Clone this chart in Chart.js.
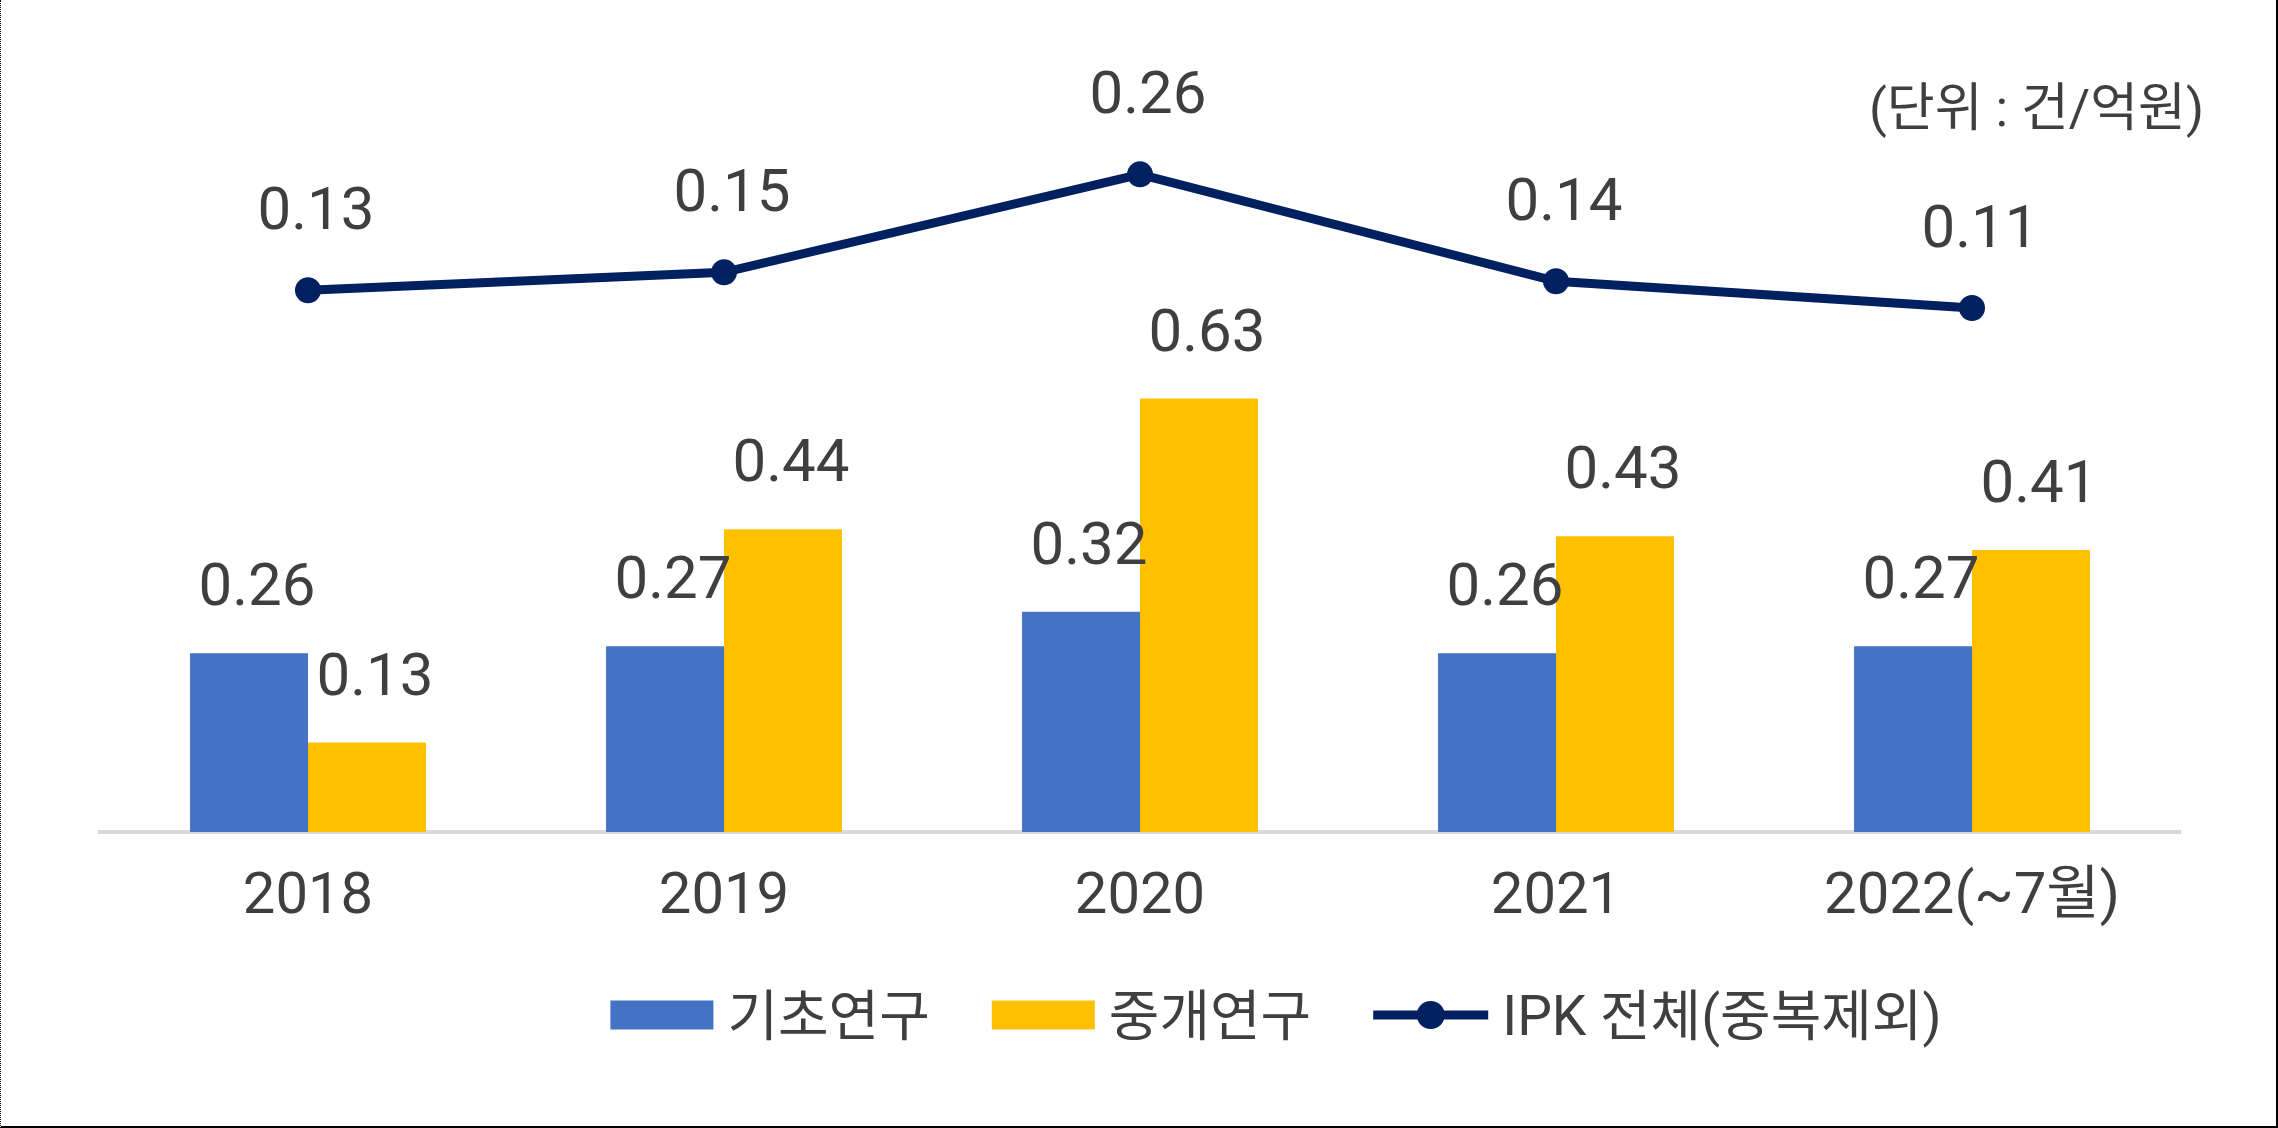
<!DOCTYPE html>
<html>
<head>
<meta charset="utf-8">
<script src="https://cdn.jsdelivr.net/npm/chart.js@4.4.1/dist/chart.umd.min.js"></script>
<style>
html,body{margin:0;padding:0;background:#fff;}
#wrap{position:relative;width:2278px;height:1128px;overflow:hidden;background:#fff;}
#c{display:block;}
#frame{position:absolute;left:0;top:0;width:2278px;height:1128px;box-sizing:border-box;border-left:1px dotted #000;border-right:2px solid #000;border-bottom:2px solid #000;pointer-events:none;}
</style>
</head>
<body>
<div id="wrap"><canvas id="c" width="2278" height="1128"></canvas><div id="frame"></div></div>
<script>
// ---- data ----
const categories = ['2018', '2019', '2020', '2021', '2022(~7월)'];
const basicResearch = [0.26, 0.27, 0.32, 0.26, 0.27];
const translationalResearch = [0.13, 0.44, 0.63, 0.43, 0.41];
const ipkTotal = [0.13, 0.15, 0.26, 0.14, 0.11];
const seriesNames = ['기초연구', '중개연구', 'IPK 전체(중복제외)'];
const unitLabel = '(단위 : 건/억원)';

// ---- styles ----
const BLUE = '#4472C4';
const GOLD = '#FFC000';
const NAVY = '#002060';
const TEXT = '#3F3F3F';
const FAMILY = "Roboto, 'Noto Sans CJK KR', sans-serif";

const dataLabelPlugin = {
  id: 'dataLabels',
  afterDatasetsDraw(chart) {
    const ctx = chart.ctx;
    ctx.save();
    ctx.font = '60px ' + FAMILY;
    ctx.fillStyle = TEXT;
    ctx.textAlign = 'center';
    ctx.textBaseline = 'alphabetic';
    chart.data.datasets.forEach((ds, i) => {
      const meta = chart.getDatasetMeta(i);
      meta.data.forEach((el, j) => {
        const v = ds.data[j];
        const txt = v.toFixed(2);
        const dy = ds.type === 'line' ? 61 : 48;
        ctx.fillText(txt, el.x + 8, el.y - dy);
      });
    });
    ctx.restore();
  }
};

const extrasPlugin = {
  id: 'extras',
  afterDraw(chart) {
    const ctx = chart.ctx;
    ctx.save();
    // unit label
    ctx.font = '52px ' + FAMILY;
    ctx.fillStyle = TEXT;
    ctx.textAlign = 'right';
    ctx.textBaseline = 'alphabetic';
    ctx.fillText(unitLabel, 2204, 126);

    // legend
    ctx.font = '55px ' + FAMILY;
    ctx.textAlign = 'left';
    const ds = chart.data.datasets;
    const items = ds.map(d => ({
      text: d.label,
      kind: d.type === 'line' ? 'line' : 'box',
      color: d.type === 'line' ? d.borderColor : d.backgroundColor,
      symW: d.type === 'line' ? 115 : 103,
      textW: ctx.measureText(d.label).width
    }));
    const symGap = 14, itemGap = 62;
    let total = 0;
    items.forEach((it, k) => {
      total += it.symW + symGap + it.textW + (k < items.length - 1 ? itemGap : 0);
    });
    let x = 1276 - total / 2;
    const cy = 1015;
    items.forEach(it => {
      if (it.kind === 'box') {
        ctx.fillStyle = it.color;
        ctx.fillRect(x, cy - 14.5, it.symW, 29);
      } else {
        ctx.strokeStyle = it.color;
        ctx.lineWidth = 9;
        ctx.beginPath();
        ctx.moveTo(x, cy);
        ctx.lineTo(x + it.symW, cy);
        ctx.stroke();
        ctx.fillStyle = it.color;
        ctx.beginPath();
        ctx.arc(x + it.symW / 2, cy, 14, 0, Math.PI * 2);
        ctx.fill();
      }
      x += it.symW + symGap;
      ctx.fillStyle = TEXT;
      ctx.fillText(it.text, x, 1035);
      x += it.textW + itemGap;
    });
    ctx.restore();
  }
};

new Chart(document.getElementById('c'), {
  data: {
    labels: categories,
    datasets: [
      {
        type: 'bar',
        label: seriesNames[0],
        data: basicResearch,
        yAxisID: 'y',
        backgroundColor: BLUE,
        borderWidth: 0,
        categoryPercentage: 0.567,
        barPercentage: 1.0,
        order: 1
      },
      {
        type: 'bar',
        label: seriesNames[1],
        data: translationalResearch,
        yAxisID: 'y',
        backgroundColor: GOLD,
        borderWidth: 0,
        categoryPercentage: 0.567,
        barPercentage: 1.0,
        order: 1
      },
      {
        type: 'line',
        label: seriesNames[2],
        data: ipkTotal,
        yAxisID: 'y2',
        borderColor: NAVY,
        backgroundColor: NAVY,
        borderWidth: 9,
        pointRadius: 13,
        pointBackgroundColor: NAVY,
        pointBorderWidth: 0,
        tension: 0,
        order: 0
      }
    ]
  },
  options: {
    responsive: false,
    devicePixelRatio: 1,
    animation: false,
    events: [],
    layout: { padding: { left: 100, right: 98, top: 40, bottom: 196 } },
    plugins: {
      legend: { display: false },
      tooltip: { enabled: false },
      title: { display: false }
    },
    scales: {
      x: {
        grid: { display: false, drawTicks: false },
        border: { display: true, color: '#D9D9D9', width: 4 },
        ticks: { color: TEXT, font: { family: FAMILY, size: 58 }, padding: 32, maxRotation: 0, autoSkip: false },
        afterFit(scale) { scale.height = 100; }
      },
      y: {
        display: false,
        min: 0,
        max: 1.1512
      },
      y2: {
        display: false,
        position: 'right',
        min: -0.4781,
        max: 0.4108
      }
    }
  },
  plugins: [dataLabelPlugin, extrasPlugin]
});
</script>
</body>
</html>
